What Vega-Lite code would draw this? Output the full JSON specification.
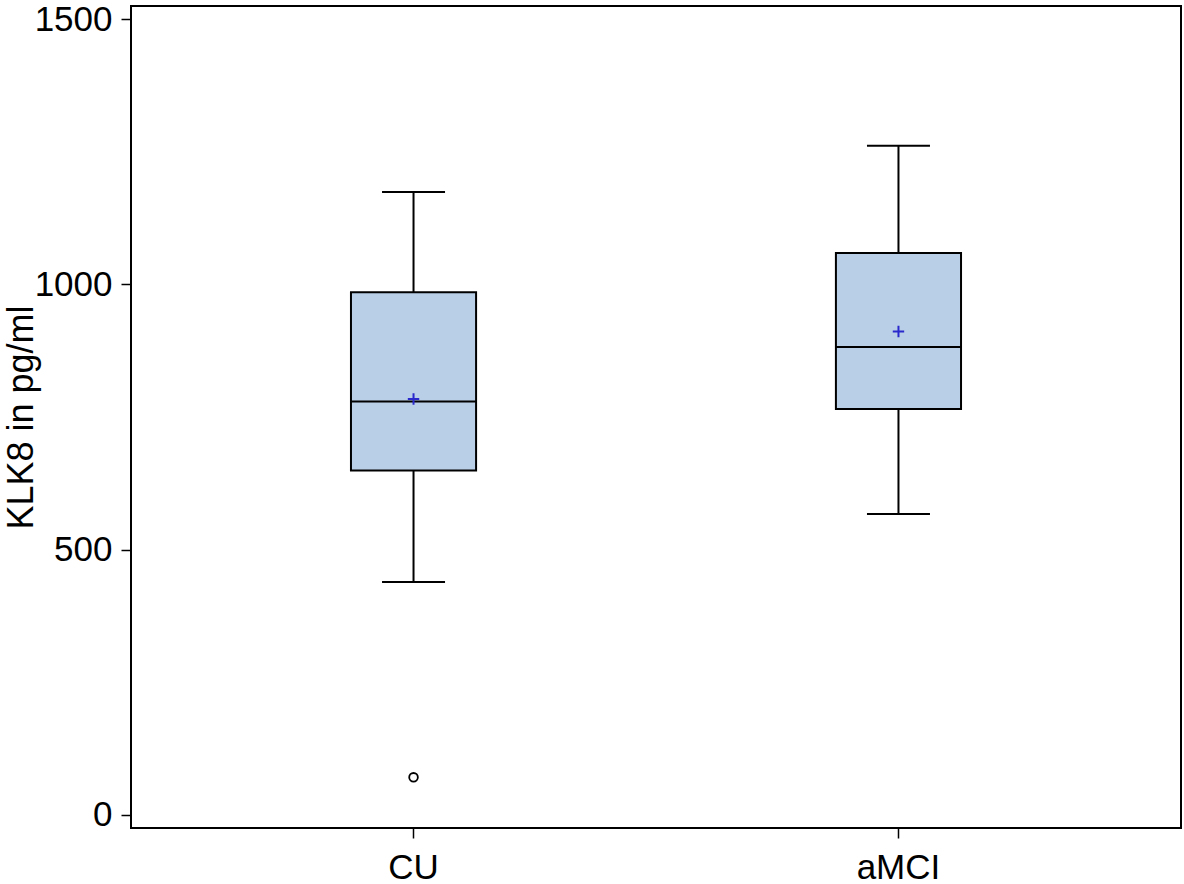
{
  "$schema": "https://vega.github.io/schema/vega-lite/v6.json",
  "autosize": {"type": "none"},
  "width": 1050,
  "height": 822,
  "padding": {"left": 131, "top": 6, "right": 3, "bottom": 56},
  "background": "white",
  "config": {
    "font": "Liberation Sans",
    "view": {"stroke": "black", "strokeWidth": 2},
    "axis": {"grid": false, "domain": false, "tickColor": "black", "tickWidth": 1.5, "tickSize": 10, "labelColor": "black", "titleColor": "black", "labelFont": "Liberation Sans", "titleFont": "Liberation Sans"}
  },
  "datasets": {
    "stats": [
      {"group": "CU", "lower": 439, "q1": 649, "median": 779, "q3": 985, "upper": 1174, "mean": 784},
      {"group": "aMCI", "lower": 567, "q1": 765, "median": 882, "q3": 1059, "upper": 1261, "mean": 911}
    ],
    "outliers": [
      {"group": "CU", "value": 71}
    ]
  },
  "encoding": {
    "x": {
      "field": "group", "type": "nominal", "sort": ["CU", "aMCI"],
      "scale": {"domain": ["CU", "aMCI"], "paddingInner": 0.742, "paddingOuter": 0.4536},
      "axis": {"title": null, "labelAngle": 0, "labelFontSize": 35, "labelPadding": 12}
    }
  },
  "layer": [
    {
      "data": {"name": "stats"},
      "mark": {"type": "rule", "color": "black", "strokeWidth": 2, "opacity": 1},
      "encoding": {
        "y": {"field": "lower", "type": "quantitative",
          "scale": {"domain": [-24.5, 1524.5], "nice": false, "zero": false},
          "axis": {"title": "KLK8 in pg/ml", "values": [0, 500, 1000, 1500], "format": "d", "labelFontSize": 35, "labelPadding": 9, "titleFontSize": 36, "titleFontWeight": "normal", "titlePadding": -6}},
        "y2": {"field": "upper"}
      }
    },
    {
      "data": {"name": "stats"},
      "mark": {"type": "bar", "fill": "#b9cfe7", "stroke": "black", "strokeWidth": 2, "opacity": 1},
      "encoding": {
        "y": {"field": "q1", "type": "quantitative"},
        "y2": {"field": "q3"}
      }
    },
    {
      "data": {"name": "stats"},
      "mark": {"type": "tick", "color": "black", "thickness": 2, "size": 125, "opacity": 1},
      "encoding": {"y": {"field": "median", "type": "quantitative"}}
    },
    {
      "data": {"name": "stats"},
      "mark": {"type": "tick", "color": "black", "thickness": 2, "size": 63, "opacity": 1},
      "encoding": {"y": {"field": "upper", "type": "quantitative"}}
    },
    {
      "data": {"name": "stats"},
      "mark": {"type": "tick", "color": "black", "thickness": 2, "size": 63, "opacity": 1},
      "encoding": {"y": {"field": "lower", "type": "quantitative"}}
    },
    {
      "data": {"name": "stats"},
      "mark": {"type": "point", "shape": "M-1,0L1,0M0,-1L0,1", "filled": false, "stroke": "#2a2acc", "strokeWidth": 2, "size": 130, "opacity": 1},
      "encoding": {"y": {"field": "mean", "type": "quantitative"}}
    },
    {
      "data": {"name": "outliers"},
      "mark": {"type": "point", "shape": "circle", "filled": false, "stroke": "black", "strokeWidth": 1.8, "size": 75, "opacity": 1},
      "encoding": {"y": {"field": "value", "type": "quantitative"}}
    }
  ]
}
